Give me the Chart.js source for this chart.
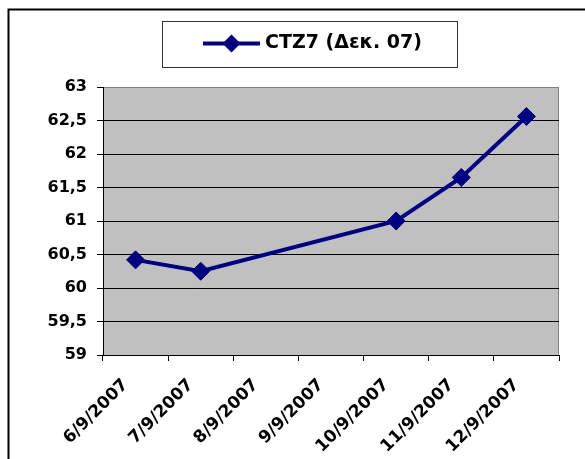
<!DOCTYPE html>
<html>
<head>
<meta charset="utf-8">
<script src="https://cdn.jsdelivr.net/npm/chart.js@4.4.0/dist/chart.umd.min.js"></script>
<style>
  html, body { margin: 0; padding: 0; background: #fff; }
  #wrap { width: 585px; height: 459px; position: relative; }
</style>
</head>
<body>
<div id="wrap"><canvas id="chart"></canvas></div>
<script>
// data (8/9 and 9/9 are a weekend, no price)
const dates = ['6/9/2007', '7/9/2007', '8/9/2007', '9/9/2007', '10/9/2007', '11/9/2007', '12/9/2007'];
const prices = [60.42, 60.25, null, null, 61.0, 61.65, 62.56];
const seriesName = 'CTZ7 (Δεκ. 07)';
const yMin = 59, yMax = 63, yStep = 0.5;

const navy = '#000080';

// outer frame, grey plot area and the boxed legend
const decor = {
  id: 'decor',
  beforeDraw(chart) {
    const { ctx, chartArea: a } = chart;
    ctx.save();
    ctx.fillStyle = '#C0C0C0';
    ctx.fillRect(a.left, a.top, a.right - a.left, a.bottom - a.top);
    ctx.strokeStyle = '#808080';
    ctx.lineWidth = 1;
    ctx.beginPath();
    ctx.moveTo(a.left, a.top + 0.5);
    ctx.lineTo(a.right - 0.5, a.top + 0.5);
    ctx.lineTo(a.right - 0.5, a.bottom);
    ctx.stroke();
    // chart frame (only top and left edge fall inside the picture)
    ctx.strokeStyle = '#000';
    ctx.lineWidth = 2;
    ctx.beginPath();
    ctx.moveTo(8.5, chart.height);
    ctx.lineTo(8.5, 9.5);
    ctx.lineTo(chart.width, 9.5);
    ctx.stroke();
    ctx.restore();
  },
  afterDraw(chart) {
    const ctx = chart.ctx;
    const ds = chart.data.datasets[0];
    ctx.save();
    ctx.strokeStyle = '#333';
    ctx.lineWidth = 1;
    ctx.strokeRect(162.5, 21.5, 295, 46);
    const cy = 43.5;
    ctx.strokeStyle = ds.borderColor;
    ctx.lineWidth = ds.borderWidth;
    ctx.beginPath();
    ctx.moveTo(203, cy);
    ctx.lineTo(260, cy);
    ctx.stroke();
    ctx.fillStyle = ds.backgroundColor;
    const cx = 231.5, r = 9;
    ctx.beginPath();
    ctx.moveTo(cx - r, cy);
    ctx.lineTo(cx, cy - r);
    ctx.lineTo(cx + r, cy);
    ctx.lineTo(cx, cy + r);
    ctx.closePath();
    ctx.fill();
    ctx.fillStyle = '#000';
    ctx.font = 'bold 19px "DejaVu Sans"';
    ctx.textBaseline = 'middle';
    ctx.fillText(ds.label, 265, cy);
    ctx.restore();
  }
};

new Chart(document.getElementById('chart'), {
  type: 'line',
  data: {
    labels: dates,
    datasets: [{
      label: seriesName,
      data: prices,
      borderColor: navy,
      backgroundColor: navy,
      borderWidth: 4,
      tension: 0,
      spanGaps: true,
      pointStyle: 'rectRot',
      pointRadius: 9,
      pointBorderWidth: 1,
      pointBackgroundColor: navy,
      pointBorderColor: navy
    }]
  },
  options: {
    responsive: true,
    maintainAspectRatio: false,
    animation: false,
    layout: { padding: { top: 87, right: 26, left: 0, bottom: 0 } },
    plugins: { legend: { display: false }, tooltip: { enabled: false } },
    scales: {
      x: {
        offset: true,
        afterFit: (s) => { s.height = 104; },
        grid: { display: true, drawOnChartArea: false, offset: true, tickLength: 6, color: '#000' },
        border: { display: true, color: '#000', width: 1 },
        ticks: {
          autoSkip: false, minRotation: 45, maxRotation: 45, padding: 14, labelOffset: -10,
          color: '#000', font: { family: 'DejaVu Sans', weight: 'bold', size: 17 }
        }
      },
      y: {
        min: yMin, max: yMax,
        afterFit: (s) => { s.width = 103; },
        grid: {
          color: (c) => (c.tick && c.tick.value === yMax ? '#808080' : '#000'),
          tickColor: '#000', lineWidth: 1, tickLength: 6
        },
        border: { display: true, color: '#000', width: 1 },
        ticks: {
          stepSize: yStep, padding: 10, color: '#000',
          font: { family: 'DejaVu Sans', weight: 'bold', size: 16 },
          callback: (v) => String(v).replace('.', ',')
        }
      }
    }
  },
  plugins: [decor]
});
</script>
</body>
</html>
